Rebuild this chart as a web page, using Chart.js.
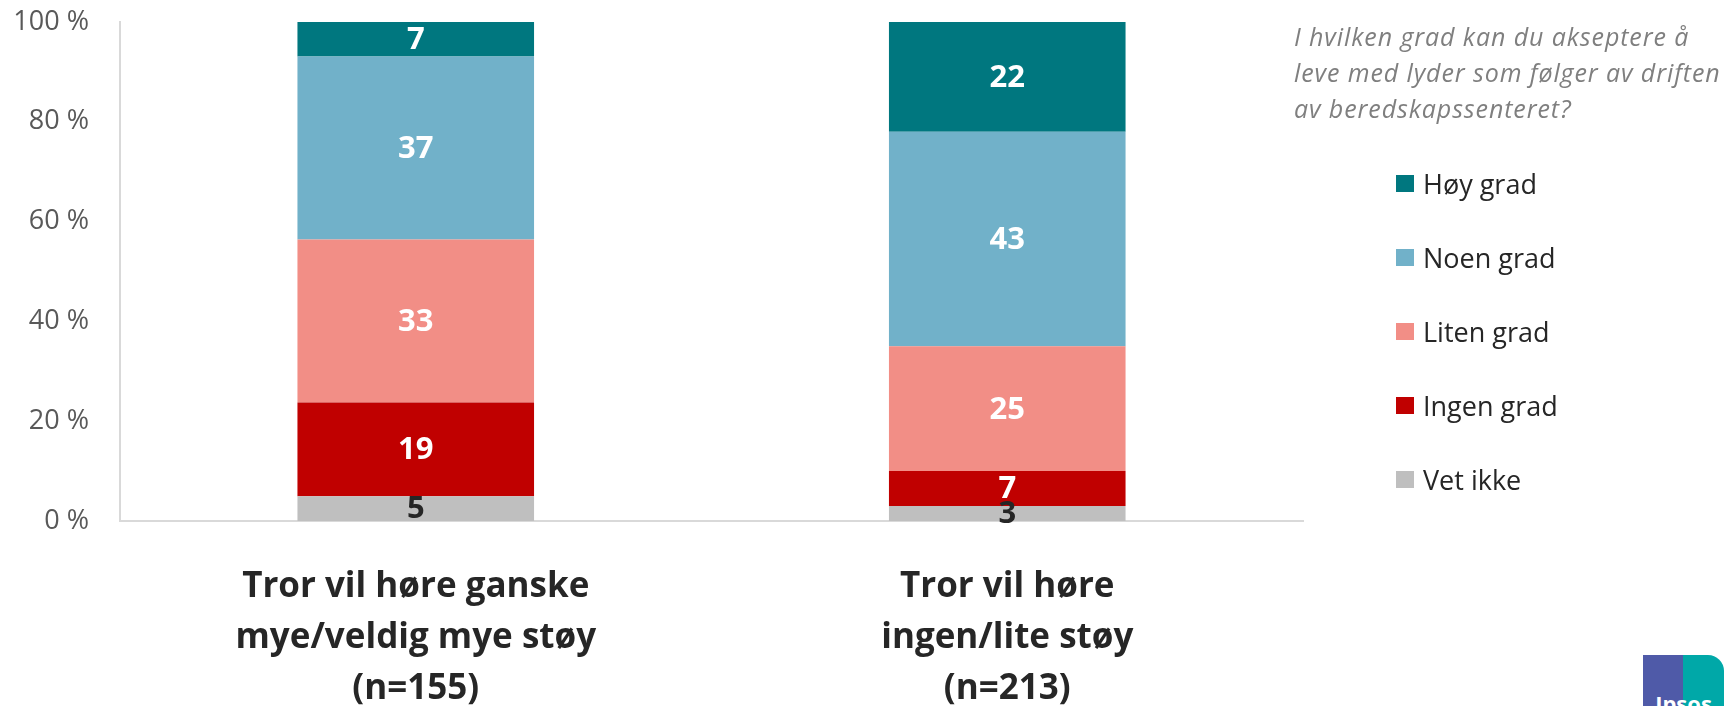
<!DOCTYPE html>
<html lang="no">
<head>
  <meta charset="UTF-8">
  <title>Aksept for lyder fra beredskapssenteret</title>
  <script src="https://cdn.jsdelivr.net/npm/chart.js"></script>
  <style>
    body { margin: 0; background: #fff; font-family: "Open Sans", sans-serif; }
    #wrap { position: relative; width: 1724px; height: 706px; overflow: hidden; }
    #chart { position: absolute; left: 0; top: 0; }
    .question { position: absolute; left: 1294px; top: 18px; font-style: italic; font-size: 25px; letter-spacing: 0.9px; line-height: 36px; color: #7f7f7f; white-space: nowrap; }
    .legend { position: absolute; left: 1396px; top: 146px; }
    .legend-item { height: 74px; display: flex; align-items: center; font-size: 27px; color: #262626; }
    .legend-item span.box { display: inline-block; width: 18px; height: 17px; margin-right: 9px; }
    .logo { position: absolute; left: 1643px; top: 655px; width: 81px; height: 60px; border-radius: 0 16px 0 0;
            background: linear-gradient(90deg, #4f5aa8 0 50%, #00a8a8 50% 100%); color: #fff; font-weight: bold;
            font-size: 22px; text-align: center; line-height: 96px; overflow: hidden; }
  </style>
</head>
<body>
  <div id="wrap">
    <canvas id="chart" width="1724" height="706"></canvas>
    <div class="question">I hvilken grad kan du akseptere å<br>leve med lyder som følger av driften<br>av beredskapssenteret?</div>
    <div class="legend" id="legend"></div>
    <div class="logo">Ipsos</div>
  </div>

  <script>
    // categories (x axis, multi-line)
    const categories = [
      ["Tror vil høre ganske", "mye/veldig mye støy", "(n=155)"],
      ["Tror vil høre", "ingen/lite støy", "(n=213)"]
    ];

    // series values (percent answering), bottom to top
    const vetIkke = [5, 3];
    const ingenGrad = [19, 7];
    const litenGrad = [33, 25];
    const noenGrad = [37, 43];
    const hoyGrad = [7, 22];

    const yTicks = [0, 20, 40, 60, 80, 100];

    const series = [
      { label: "Vet ikke", values: vetIkke, color: "#bfbfbf", textColor: "#262626" },
      { label: "Ingen grad", values: ingenGrad, color: "#c00000", textColor: "#ffffff" },
      { label: "Liten grad", values: litenGrad, color: "#f28e86", textColor: "#ffffff" },
      { label: "Noen grad", values: noenGrad, color: "#71b1c9", textColor: "#ffffff" },
      { label: "Høy grad", values: hoyGrad, color: "#00777f", textColor: "#ffffff" }
    ];

    // 100 % stacked: each column scaled to its own total
    const totals = categories.map((c, i) => series.reduce((s, d) => s + d.values[i], 0));

    const datasets = series.map(s => ({
      label: s.label,
      data: s.values.map((v, i) => v / totals[i] * 100),
      raw: s.values,
      textColor: s.textColor,
      backgroundColor: s.color,
      borderWidth: 0,
      barPercentage: 0.4,
      categoryPercentage: 1
    }));

    // value labels in the middle of each segment
    const segmentLabels = {
      id: "segmentLabels",
      afterDatasetsDraw(chart) {
        const ctx = chart.ctx;
        ctx.save();
        ctx.font = "bold 31px 'Open Sans'";
        ctx.textAlign = "center";
        ctx.textBaseline = "middle";
        chart.data.datasets.forEach((ds, di) => {
          chart.getDatasetMeta(di).data.forEach((bar, i) => {
            const p = bar.getProps(["x", "y", "base"], true);
            ctx.fillStyle = ds.textColor;
            ctx.fillText(ds.raw[i], p.x, (p.y + p.base) / 2 + 1);
          });
        });
        ctx.restore();
      }
    };

    new Chart(document.getElementById("chart"), {
      type: "bar",
      data: { labels: categories, datasets: datasets },
      options: {
        responsive: false,
        animation: false,
        layout: { padding: { top: 0, right: 421, bottom: 0, left: 0 } },
        plugins: { legend: { display: false }, tooltip: { enabled: false } },
        scales: {
          x: {
            stacked: true,
            grid: { display: false, drawTicks: false },
            border: { color: "#d9d9d9", width: 2 },
            ticks: {
              color: "#262626",
              padding: 40,
              font: { family: "'Open Sans'", size: 35, weight: "bold", lineHeight: 1.46 }
            },
            afterFit(scale) { scale.height = 185; }
          },
          y: {
            stacked: true,
            min: 0,
            max: 100,
            grid: { display: false, drawTicks: false },
            border: { color: "#d9d9d9", width: 2 },
            afterBuildTicks(scale) { scale.ticks = yTicks.map(v => ({ value: v })); },
            ticks: {
              color: "#595959",
              padding: 31,
              font: { family: "'Open Sans'", size: 27 },
              callback: v => v + " %"
            },
            afterFit(scale) {
              scale.width = 120;
              scale.paddingTop = 22;
              scale.paddingBottom = 0;
            }
          }
        }
      },
      plugins: [segmentLabels]
    });

    // legend, top to bottom like the original
    const legend = document.getElementById("legend");
    series.slice().reverse().forEach(s => {
      const item = document.createElement("div");
      item.className = "legend-item";
      item.innerHTML = `<span class="box" style="background:${s.color}"></span>${s.label}`;
      legend.appendChild(item);
    });
  </script>
</body>
</html>
